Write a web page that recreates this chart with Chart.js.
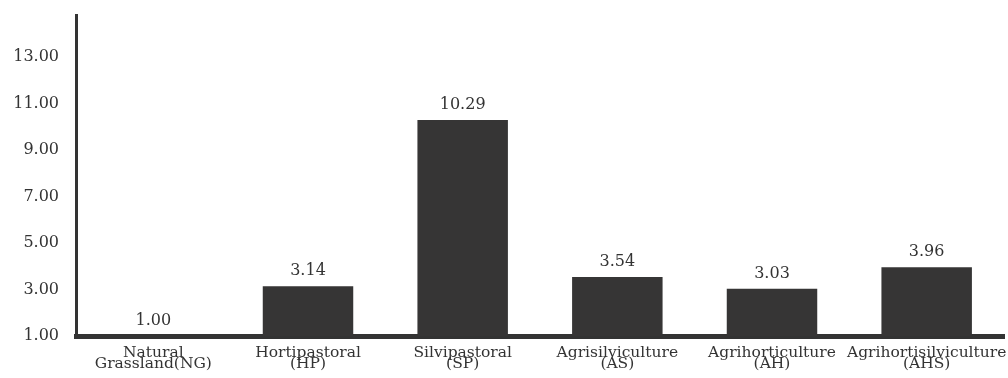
<!DOCTYPE html>
<html>
<head>
<meta charset="utf-8">
<script src="https://cdn.jsdelivr.net/npm/chart.js@4/dist/chart.umd.min.js"></script>
<style>
  html, body { margin: 0; padding: 0; background: #ffffff; }
  #wrap { width: 1008px; height: 378px; position: relative; }
</style>
</head>
<body>
<div id="wrap"><canvas id="chart"></canvas></div>
<script>
// Land-use systems and their relative index values
const categories = [
  ['Natural', 'Grassland(NG)'],
  ['Hortipastoral', '(HP)'],
  ['Silvipastoral', '(SP)'],
  ['Agrisilviculture', '(AS)'],
  ['Agrihorticulture', '(AH)'],
  ['Agrihortisilviculture', '(AHS)']
];
const values = [1.00, 3.14, 10.29, 3.54, 3.03, 3.96];
const yTicks = [1, 3, 5, 7, 9, 11, 13];

const INK = '#333333';
const BAR = '#363535';
const FONT = '"DejaVu Serif", serif';

// Writes each bar's value just above its top
const valueLabels = {
  id: 'valueLabels',
  afterDatasetsDraw(chart) {
    const ctx = chart.ctx;
    const meta = chart.getDatasetMeta(0);
    ctx.save();
    ctx.font = '16px ' + FONT;
    ctx.fillStyle = INK;
    ctx.textAlign = 'center';
    ctx.textBaseline = 'middle';
    meta.data.forEach((bar, i) => {
      ctx.fillText(values[i].toFixed(2), bar.x, bar.y - 15);
    });
    ctx.restore();
  }
};

new Chart(document.getElementById('chart'), {
  type: 'bar',
  data: {
    labels: categories,
    datasets: [{
      data: values,
      backgroundColor: BAR,
      borderWidth: 0,
      barPercentage: 0.65,
      categoryPercentage: 0.9
    }]
  },
  options: {
    responsive: true,
    maintainAspectRatio: false,
    animation: false,
    layout: { autoPadding: false, padding: { top: 15, right: 4, left: 0, bottom: 0 } },
    plugins: {
      legend: { display: false },
      tooltip: { enabled: false }
    },
    scales: {
      x: {
        grid: { display: false, drawTicks: false },
        border: { display: true, color: INK, width: 5 },
        afterFit(axis) {
          axis.height = 42;
          axis.paddingLeft = 0;
          axis.paddingRight = 0;
        },
        ticks: {
          color: INK,
          font: { family: FONT, size: 15.5, lineHeight: 0.75 },
          padding: 11,
          maxRotation: 0,
          autoSkip: false
        }
      },
      y: {
        min: 1,
        max: 14.8,
        grid: { display: false, drawTicks: false },
        border: { display: true, color: INK, width: 3 },
        afterBuildTicks(axis) {
          axis.ticks = yTicks.map(v => ({ value: v }));
        },
        afterFit(axis) {
          axis.width = 76;
          axis.paddingTop = 0;
          axis.paddingBottom = 0;
        },
        ticks: {
          color: INK,
          font: { family: FONT, size: 16 },
          padding: 17,
          callback: v => Number(v).toFixed(2)
        }
      }
    }
  },
  plugins: [valueLabels]
});
</script>
</body>
</html>
